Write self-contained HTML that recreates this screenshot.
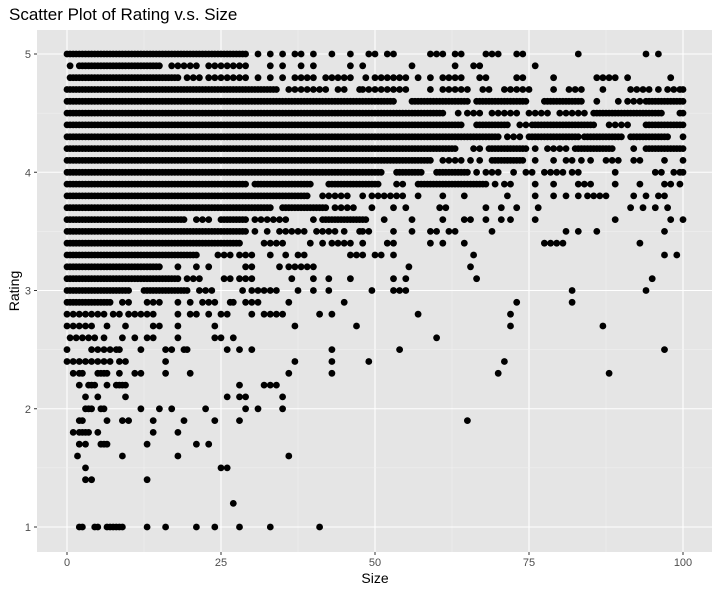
<!DOCTYPE html>
<html><head><meta charset="utf-8">
<style>
body{margin:0;background:#fff;font-family:"Liberation Sans",sans-serif;}
svg text{font-family:"Liberation Sans",sans-serif;}
</style></head>
<body>
<svg id="chart" width="720" height="593" xmlns="http://www.w3.org/2000/svg">
<text x="9" y="20" font-size="17" fill="#000">Scatter Plot of Rating v.s. Size</text>
<rect x="37" y="30" width="675" height="522" fill="#e5e5e5"/>
<g id="grid"></g>
<g id="points"></g>
<g id="axes"></g>
<text x="375" y="583" font-size="14" text-anchor="middle" fill="#000">Size</text>
<text transform="translate(19,291) rotate(-90)" font-size="14" text-anchor="middle" fill="#000">Rating</text>
</svg>
<script>
const xTicks=[0,25,50,75,100];
const yTicks=[1,2,3,4,5];
const xTickLabels=["0","25","50","75","100"];
const yTickLabels=["1","2","3","4","5"];
function R(a,b,s){s=s||0.5;const o=[];for(let v=a;v<=b+1e-9;v+=s)o.push(+v.toFixed(2));return o;}
const r50=[...R(0,29),31,33,35,37,38,40,43,46,49,50,52,53,59,60,61,63,64,68,69,70,73,74,83,94,96];
const r49=[0.5,...R(2,15),17,18,19,20,21,23,24,25,26,27,28,29,33,35,38,40,46,48,56,63,66,67,76];
const r48=[0.5,...R(1,18),19.5,20.5,21.5,23,24,25,26,27,28,29,31,33,35,37,38,39,40,42,43,44,45,46,48.5,50,51,52,53,54,55,57,59,61,62,63,64,67,68,73,74,79,86,87,88,89,91,98];
const r47=[...R(0,34),36,37,38,39,40,41,42,44,45,47.5,48,49,50,51,52,53,54,55,59,61,62,63,64,65,67.5,68.5,71,72,73,74,75,79,81.5,82.5,83.5,87,91.5,92.5,93.5,94.5,96,97.5,98.5,99.5,100];
const r46=[...R(0,53),...R(56,65),...R(66.5,74.5),...R(77.5,83.5),86,89.5,91,92,93,...R(94,100)];
const r45=[...R(0,61),63.5,65,66,67,69,70,71,72,73,75,76,77,78,80,81,82,83,84,...R(85.5,96.5),99.5,100];
const r44=[...R(0,64),...R(66.5,71.5),73.5,74.5,...R(75.5,85.5),88,89,90,91,...R(94,100)];
const r43=[...R(0,70),71.5,72.5,73.5,...R(75,83),...R(84,90),...R(91.5,97.5),100];
const r42=[...R(0,63),66,67,...R(68.5,74.5),76,78,79,80,81,...R(82.5,88.5),92,...R(94,100)];
const r41=[...R(0,59),61,62,63,64,65.5,67,...R(69,74),76,79,81,82,83.5,85,87.5,88.5,89.5,92,93,97,100];
const r40=[...R(0,51),...R(53.5,57.5),...R(60,65),66.5,68,69,70,72.5,74.5,75.5,77.5,78.5,79.5,80.5,82,83,89,95.5,96.5,98.5,99.5,100];
const r39=[...R(0,29),...R(30.5,39.5),...R(42.5,50.5),53.5,54.5,...R(57,68),69.5,71,72,76,79,83,84,85,89,93,97,98,99.5];
const r38=[...R(0,39),41.5,42.5,43.5,44.5,45.5,48,49.5,50.5,51.5,52.5,53.5,54.5,57,61,64.5,71.5,76,79,81,83,84.5,85.5,86.5,87.5,92,94,96,97];
const r37=[...R(0,33),...R(35,42),43.5,44.5,45.5,46.5,49.5,53,55,60.5,61.5,68,70.5,73,76.5,91.5,93.5,95.5,97.5];
const r36=[...R(0,19),21,22,23,...R(25,29),30.5,31.5,32.5,33.5,34.5,35.5,40,...R(41.5,48.5),51.5,56,61,64.5,65.5,68,70.5,72,76,89,98,100];
const r35=[...R(0,29),30.5,32.5,34.5,35.5,36.5,37.5,38.5,40.5,41.5,42.5,43.5,45,47.5,48,49,53,56,59,60,62,63,69,81,83,86,97];
const r34=[...R(0,28),32,33,34,35,39.5,41.5,43,44,45,46,48,52,53,59,61,64.5,77.5,78.5,79.5,80.5,93];
const r33=[...R(0,21),24.5,25.5,26.5,28,29,30,33,35.5,37.5,38.5,46,47,48,50,51,53,66,97,99];
const r32=[...R(0,15),18,21,23,29,30,34.5,36,37,38,39,40,55.5,65.5];
const r31=[...R(0,18),19.5,20.5,21.5,25.5,26.5,28,29,30,36.5,40,42.5,46,53,55,66.5,95];
const r30=[...R(0,10),...R(12.5,19.5),21.5,22.5,23.5,28.5,30,31,32,33,34,37.5,40,42.5,49.5,53,54,55,82,94];
const r29=[...R(0,7),9,10,13,14,15,18,20,22,23,24,26.5,27,29,30,31,36,45,73,82];
const r28=[0,1,2,3,4,5,6,7.5,8.5,10,11,12,13,14,18,20,21,23,25,26,30,32,33,34,35,41,43,57,72];
const r27=[0,1,2,3,4,6.5,9.5,14,15,18,24,37,47,72,87];
const r26=[0.5,1.5,2.5,3.5,4.5,6,9,11,13,14,18,24,25,27,60];
const r25=[0,4,5,6,7,8,8.5,12,16,17,19,19.5,26,28,30,43,54,97];
const r24=[0,1,2,3,4,5,6,7,8.5,9.5,16,37,43,49,71];
const r23=[1,2,2.5,5,5.5,6,6.5,8.5,11,12,16,20,36,43,70,88];
const r22=[2,3.5,4,4.5,6.5,8,8.5,9,9.5,28,32,33,34];
const r21=[3,5,9.5,26,28,29,35];
const r20=[3,3.5,4,5.5,6,12,15,17,22.5,29,31,35];
const r19=[2,2.5,6.5,9,10,14,19,24,28,65];
const r18=[1,2,2.5,3,3.5,5,14,18];
const r17=[2,3,5.5,6,6.5,13,21,23];
const r16=[1.7,9,18,36];
const r15=[3,25,26];
const r14=[3,4,13];
const r12=[27];
const r10=[2,2.5,4.5,5,6.5,7,7.5,8,8.5,9,13,16,21,24,28,33,41];
const ratings=[5.0,4.9,4.8,4.7,4.6,4.5,4.4,4.3,4.2,4.1,4.0,3.9,3.8,3.7,3.6,3.5,3.4,3.3,3.2,3.1,3.0,2.9,2.8,2.7,2.6,2.5,2.4,2.3,2.2,2.1,2.0,1.9,1.8,1.7,1.6,1.5,1.4,1.2,1.0];
const sizeRows=[r50,r49,r48,r47,r46,r45,r44,r43,r42,r41,r40,r39,r38,r37,r36,r35,r34,r33,r32,r31,r30,r29,r28,r27,r26,r25,r24,r23,r22,r21,r20,r19,r18,r17,r16,r15,r14,r12,r10];

const NS="http://www.w3.org/2000/svg";
const X0=37,X1=712,Y0=30,Y1=552;
function xs(v){return 67+v*6.16;}
function ys(v){return 527-(v-1)*118.25;}
function mk(tag,attrs,parent){const e=document.createElementNS(NS,tag);for(const k in attrs)e.setAttribute(k,attrs[k]);parent.appendChild(e);return e;}
const grid=document.getElementById('grid');
for(let i=0;i<xTicks.length;i++){
  const v=xTicks[i];
  const l=mk('line',{x1:xs(v),x2:xs(v),y1:Y0,y2:Y1,stroke:'#fff','stroke-width':1.1},grid);
  
  
  if(i<xTicks.length-1){
    const m=(v+xTicks[i+1])/2;
    const l2=mk('line',{x1:xs(m),x2:xs(m),y1:Y0,y2:Y1,stroke:'#f2f2f2','stroke-width':0.55},grid);
    
    
  }
}
for(let i=0;i<yTicks.length;i++){
  const v=yTicks[i];
  const l=mk('line',{x1:X0,x2:X1,y1:ys(v),y2:ys(v),stroke:'#fff','stroke-width':1.1},grid);
  
  
  if(i<yTicks.length-1){
    const m=(v+yTicks[i+1])/2;
    const l2=mk('line',{x1:X0,x2:X1,y1:ys(m),y2:ys(m),stroke:'#f2f2f2','stroke-width':0.55},grid);
    
    
  }
}
const pts=document.getElementById('points');
for(let i=0;i<ratings.length;i++){
  for(const s of sizeRows[i]){
    const c=mk('circle',{cx:xs(s).toFixed(1),cy:ys(ratings[i]).toFixed(1),r:3.4,fill:'#000'},pts);
    
    
  }
}
const axes=document.getElementById('axes');
for(let i=0;i<xTicks.length;i++){
  const x=xs(xTicks[i]);
  const t=mk('line',{x1:x,x2:x,y1:Y1,y2:Y1+3,stroke:'#333','stroke-width':1},axes);
  
  
  const tx=mk('text',{x:x,y:Y1+14,'font-size':11,'text-anchor':'middle',fill:'#4d4d4d'},axes);
  tx.textContent=xTickLabels[i];
  
  
}
for(let i=0;i<yTicks.length;i++){
  const y=ys(yTicks[i]);
  const t=mk('line',{x1:X0-3,x2:X0,y1:y,y2:y,stroke:'#333','stroke-width':1},axes);
  
  
  const tx=mk('text',{x:X0-6,y:y+4,'font-size':11,'text-anchor':'end',fill:'#4d4d4d'},axes);
  tx.textContent=yTickLabels[i];
  
  
}
</script>
</body></html>
